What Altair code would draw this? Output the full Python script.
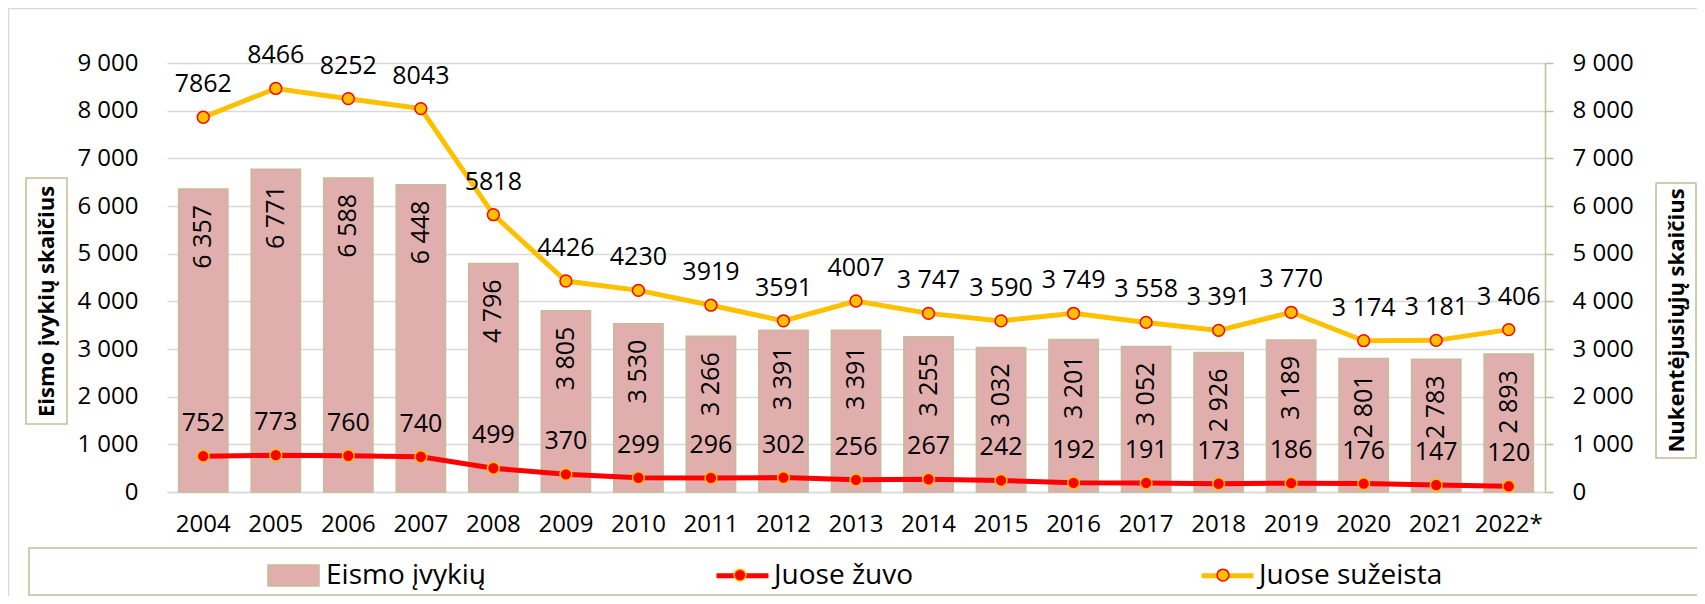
import altair as alt
import pandas as pd

# ---- data ----
years = ["2004", "2005", "2006", "2007", "2008", "2009", "2010", "2011", "2012",
         "2013", "2014", "2015", "2016", "2017", "2018", "2019", "2020", "2021", "2022*"]
accidents = [6357, 6771, 6588, 6448, 4796, 3805, 3530, 3266, 3391, 3391,
             3255, 3032, 3201, 3052, 2926, 3189, 2801, 2783, 2893]
killed = [752, 773, 760, 740, 499, 370, 299, 296, 302, 256,
          267, 242, 192, 191, 173, 186, 176, 147, 120]
injured = [7862, 8466, 8252, 8043, 5818, 4426, 4230, 3919, 3591, 4007,
           3747, 3590, 3749, 3558, 3391, 3770, 3174, 3181, 3406]
injured_labels = ["7862", "8466", "8252", "8043", "5818", "4426", "4230", "3919", "3591", "4007",
                  "3 747", "3 590", "3 749", "3 558", "3 391", "3 770", "3 174", "3 181", "3 406"]
series_names = ["Eismo įvykių", "Juose žuvo", "Juose sužeista"]
left_title = "Eismo įvykių skaičius"
right_title = "Nukentėjusiųjų skaičius"
tick_values = [0, 1000, 2000, 3000, 4000, 5000, 6000, 7000, 8000, 9000]


def spaced(v):
    return f"{v:,}".replace(",", " ")


bars_df = pd.DataFrame({
    "year": years,
    "value": accidents,
    "label": [spaced(v) for v in accidents],
    "series": [series_names[0]] * len(years),
})
lines_df = pd.DataFrame({
    "year": years + years,
    "value": killed + injured,
    "label": [str(v) for v in killed] + injured_labels,
    "series": [series_names[1]] * len(years) + [series_names[2]] * len(years),
})
one = pd.DataFrame({"k": [0]})

# ---- styles ----
FONT = "Open Sans"
PINK = "#E1AEAE"
TAN = "#C4BD97"
RED = "#FF0000"
GOLD = "#FFC000"
GRID = "#D9D9D9"
W, H = 1378, 429

fmt = "replace(format(datum.value, ','), ',', ' ')"

x_enc = alt.X(
    "year:N", sort=years,
    scale=alt.Scale(type="band", paddingInner=0.32, paddingOuter=0.16),
    axis=alt.Axis(title=None, labelAngle=0, labelFontSize=24, labelFont=FONT,
                  labelColor="black", labelPadding=20, ticks=False, tickSize=0,
                  domainColor=GRID, domainWidth=1.5, grid=False),
)


def yscale():
    return alt.Scale(domain=[0, 9000], nice=False, zero=True)


left_axis = alt.Axis(
    orient="left", values=tick_values, labelExpr=fmt, labelFontSize=24, labelFont=FONT,
    labelColor="black", labelPadding=29, ticks=False, tickSize=0, domain=False,
    grid=True, gridColor=GRID, gridWidth=1.5,
    title=left_title, titleFont=FONT, titleFontSize=22, titleFontWeight="bold",
    titleColor="black", titleAngle=270, titleX=-121, titleY=238, titleAlign="center",
    titleBaseline="middle",
)
right_axis = alt.Axis(
    orient="right", values=tick_values, labelExpr=fmt, labelFontSize=24, labelFont=FONT,
    labelColor="black", labelPadding=19, ticks=True, tickSize=8, tickColor=TAN,
    tickWidth=1.5, domain=True, domainColor=TAN, domainWidth=1.5, grid=False,
    title=right_title, titleFont=FONT, titleFontSize=22, titleFontWeight="bold",
    titleColor="black", titleAngle=270, titleX=131, titleY=257, titleAlign="center",
    titleBaseline="middle",
)


def frame(x, x2, y, y2, color):
    return alt.Chart(one).mark_rect(fill="transparent", stroke=color, strokeWidth=1.5).encode(
        x=alt.value(x), x2=alt.value(x2), y=alt.value(y), y2=alt.value(y2)
    )


outer = frame(-158.5, 1700, -54.5, 700, GRID)
legend_box = frame(-138, 1700, 485, 532, TAN)
left_box = frame(-141, -100, 115, 361, TAN)
right_box = frame(1489, 1529, 120, 395, TAN)

bars = alt.Chart(bars_df).mark_bar(stroke=TAN, strokeWidth=1.5).encode(
    x=x_enc,
    y=alt.Y("value:Q", scale=yscale(), axis=left_axis),
    fill=alt.Fill(
        "series:N",
        scale=alt.Scale(domain=[series_names[0]], range=[PINK]),
        legend=alt.Legend(
            orient="none", legendX=100, legendY=486, direction="horizontal", title=None,
            symbolType="M-1,-0.41H1V0.41H-1Z", symbolSize=2601, symbolStrokeColor=TAN,
            symbolStrokeWidth=1.5, labelFont=FONT, labelFontSize=28, labelColor="black",
            labelOffset=6, labelLimit=500, padding=0,
        ),
    ),
)

bar_text = alt.Chart(bars_df).mark_text(
    angle=270, align="right", baseline="middle", dx=-16, fontSize=25, font=FONT, color="black"
).encode(
    x=x_enc,
    y=alt.Y("value:Q", scale=yscale(), axis=None),
    text="label:N",
)

lines = alt.Chart(lines_df).mark_line(strokeWidth=5).encode(
    x=x_enc,
    y=alt.Y("value:Q", scale=yscale(), axis=right_axis),
    stroke=alt.Stroke(
        "series:N",
        scale=alt.Scale(domain=series_names[1:], range=[RED, GOLD]),
        legend=alt.Legend(
            orient="none", legendX=547, legendY=484, direction="horizontal", title=None,
            symbolType="stroke", symbolSize=2704, symbolStrokeWidth=5,
            labelFont=FONT, labelFontSize=28, labelColor="black", labelOffset=3,
            labelLimit=500, columnPadding=277, padding=0,
        ),
    ),
)

pt_legend = alt.Legend(
    orient="none", legendX=566, legendY=505, direction="horizontal", title=None,
    symbolType="circle", symbolSize=140, symbolStrokeWidth=1.5,
    labelExpr="''", labelOffset=0, columnPadding=465, padding=0,
)
points = alt.Chart(lines_df).mark_point(
    shape="circle", filled=True, size=140, strokeWidth=1.5, opacity=1
).encode(
    x=x_enc,
    y=alt.Y("value:Q", scale=yscale(), axis=None),
    fill=alt.Fill("series:N", scale=alt.Scale(domain=series_names[1:], range=[RED, GOLD]),
                  legend=pt_legend),
    stroke=alt.Stroke("series:N", scale=alt.Scale(domain=series_names[1:], range=[GOLD, RED]),
                      legend=pt_legend),
)

line_text = alt.Chart(lines_df).mark_text(
    baseline="alphabetic", dy=-25, fontSize=25, font=FONT, color="black"
).encode(
    x=x_enc,
    y=alt.Y("value:Q", scale=yscale(), axis=None),
    text="label:N",
)

chart = alt.layer(
    outer, legend_box, left_box, right_box, bars, bar_text, lines, points, line_text
).resolve_scale(
    y="independent", fill="independent", stroke="independent"
).properties(
    width=W, height=H,
    autosize=alt.AutoSizeParams(type="none"),
    padding={"left": 159, "top": 55, "right": 152, "bottom": 104},
).configure_view(strokeWidth=0)

chart.save("out.html", embed_options={"renderer": "svg", "actions": False})
